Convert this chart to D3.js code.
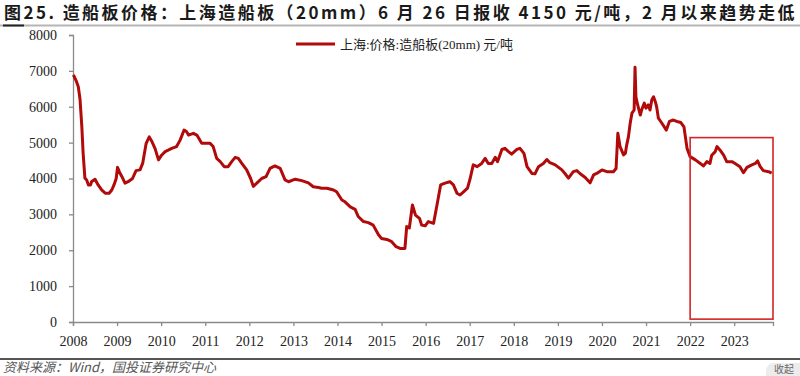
<!DOCTYPE html>
<html>
<head>
<meta charset="utf-8">
<script src="https://cdn.jsdelivr.net/npm/d3@7"></script>
<style>
  body { margin: 0; background: #fff; }
  svg { display: block; }
</style>
</head>
<body>
<svg id="grafico" width="800" height="376"></svg>
<script>
// Datos (fecha en años decimales, precio en yuan/t)
const fechas = [
  2008.01, 2008.08, 2008.12, 2008.16, 2008.20, 2008.23, 2008.27, 2008.31, 2008.35, 2008.40,
  2008.42, 2008.50, 2008.57, 2008.65, 2008.73, 2008.82, 2008.88, 2008.93, 2008.98, 2009.01,
  2009.05, 2009.11, 2009.18, 2009.25, 2009.35, 2009.43, 2009.52, 2009.58, 2009.66, 2009.73,
  2009.79, 2009.86, 2009.94, 2010.01, 2010.09, 2010.16, 2010.24, 2010.35, 2010.43, 2010.52,
  2010.58, 2010.62, 2010.73, 2010.81, 2010.92, 2011.11, 2011.18, 2011.26, 2011.34, 2011.43,
  2011.52, 2011.60, 2011.68, 2011.75, 2011.83, 2011.94, 2012.03, 2012.09, 2012.17, 2012.28,
  2012.38, 2012.47, 2012.58, 2012.70, 2012.81, 2012.89, 2013.04, 2013.19, 2013.34, 2013.45,
  2013.57, 2013.64, 2013.76, 2013.91, 2013.98, 2014.10, 2014.17, 2014.29, 2014.40, 2014.47,
  2014.59, 2014.70, 2014.81, 2014.93, 2015.00, 2015.12, 2015.23, 2015.33, 2015.42, 2015.53,
  2015.57, 2015.63, 2015.70, 2015.77, 2015.86, 2015.91, 2015.99, 2016.06, 2016.18, 2016.25,
  2016.34, 2016.44, 2016.55, 2016.63, 2016.71, 2016.78, 2016.86, 2016.95, 2017.01, 2017.08,
  2017.17, 2017.27, 2017.35, 2017.42, 2017.50, 2017.58, 2017.63, 2017.73, 2017.80, 2017.88,
  2017.95, 2018.07, 2018.14, 2018.23, 2018.30, 2018.41, 2018.48, 2018.56, 2018.67, 2018.75,
  2018.82, 2018.94, 2019.09, 2019.16, 2019.24, 2019.35, 2019.43, 2019.50, 2019.62, 2019.73,
  2019.81, 2019.88, 2020.00, 2020.11, 2020.26, 2020.32, 2020.36, 2020.41, 2020.49, 2020.53,
  2020.56, 2020.60, 2020.64, 2020.68, 2020.73, 2020.75, 2020.77, 2020.81, 2020.87, 2020.90,
  2020.96, 2021.00, 2021.05, 2021.09, 2021.13, 2021.17, 2021.21, 2021.24, 2021.28, 2021.36,
  2021.46, 2021.53, 2021.62, 2021.70, 2021.79, 2021.86, 2021.93, 2022.00, 2022.12, 2022.23,
  2022.30, 2022.38, 2022.45, 2022.49, 2022.57, 2022.61, 2022.68, 2022.76, 2022.83, 2022.95,
  2023.02, 2023.13, 2023.21, 2023.29, 2023.40, 2023.48, 2023.53, 2023.59, 2023.66, 2023.78,
  2023.85
];

const precios = [
  6890, 6700, 6560, 6200, 5450, 4700, 4010, 3960, 3820, 3820,
  3910, 3980, 3820, 3680, 3590, 3590, 3680, 3820, 4000, 4310,
  4190, 4050, 3870, 3910, 4000, 4220, 4240, 4420, 4980, 5160,
  5030, 4840, 4520, 4650, 4750, 4790, 4840, 4890, 5070, 5350,
  5300, 5210, 5260, 5210, 4980, 4980, 4890, 4560, 4470, 4330,
  4330, 4470, 4590, 4560, 4420, 4240, 4000, 3780, 3870, 4000,
  4050, 4280, 4350, 4280, 3960, 3910, 3980, 3940, 3880, 3770,
  3750, 3730, 3730, 3680, 3630, 3400, 3350, 3210, 3140, 2940,
  2800, 2770, 2700, 2430, 2330, 2300, 2240, 2100, 2050, 2050,
  2660, 2620, 3260, 2980, 2890, 2700, 2680, 2800, 2750, 3210,
  3820, 3870, 3910, 3820, 3590, 3540, 3630, 3730, 4000, 4380,
  4330, 4420, 4560, 4420, 4420, 4590, 4470, 4810, 4840, 4750,
  4680, 4810, 4840, 4700, 4330, 4140, 4130, 4330, 4420, 4530,
  4440, 4380, 4240, 4140, 4010, 4190, 4220, 4140, 4030, 3880,
  4100, 4140, 4240, 4190, 4190, 4280, 5260, 4890, 4660, 4700,
  4930, 5160, 5540, 5820, 5910, 7100, 6280, 6050, 5770, 5910,
  6100, 5960, 6050, 5910, 6190, 6280, 6140, 6000, 5680, 5540,
  5350, 5590, 5630, 5590, 5560, 5440, 4840, 4610, 4520, 4420,
  4350, 4470, 4420, 4650, 4750, 4890, 4790, 4650, 4470, 4470,
  4420, 4330, 4160, 4310, 4380, 4420, 4490, 4330, 4220, 4190,
  4150
];

const anios = [2008, 2009, 2010, 2011, 2012, 2013, 2014, 2015, 2016, 2017, 2018, 2019, 2020, 2021, 2022, 2023];
const ticksY = [0, 1000, 2000, 3000, 4000, 5000, 6000, 7000, 8000];

// Recuadro rojo (periodo destacado)
const destacadoX = [2022.0, 2023.88];
const destacadoY = [80, 5140];

const titulo = "图25. 造船板价格：上海造船板（20mm）6 月 26 日报收 4150 元/吨，2 月以来趋势走低";
const nombreSerie = "上海:价格:造船板(20mm) 元/吨";
const fuente = "资料来源：Wind，国投证券研究中心";

const datos = fechas.map((f, i) => ({ fecha: f, precio: precios[i] }));

const svg = d3.select("#grafico");
const margin = { top: 35, right: 27, bottom: 54, left: 73 };
const width = 800, height = 376;

const x = d3.scaleLinear()
    .domain([2008, 2023.88])
    .range([margin.left, width - margin.right]);

const y = d3.scaleLinear()
    .domain([0, 8000])
    .range([height - margin.bottom, margin.top]);

// Titulo: se ajusta el espaciado para que ocupe el ancho del original
const tituloTxt = svg.append("text")
    .attr("x", 4).attr("y", 19)
    .style("font-family", "'Noto Sans CJK SC', 'Liberation Sans', sans-serif")
    .style("font-weight", "bold")
    .style("font-size", "17px")
    .style("fill", "#1a1a1a")
    .text(titulo);
const largoNatural = tituloTxt.node().getComputedTextLength();
const espacio = Math.max(0, (793 - largoNatural) / titulo.length);
tituloTxt.style("letter-spacing", `${espacio}px`);

svg.append("rect")
    .attr("x", 0).attr("y", 24.5).attr("width", width).attr("height", 2)
    .attr("fill", "#b5b5b5");
svg.append("rect")
    .attr("x", 3).attr("y", 24.5).attr("width", 21).attr("height", 2)
    .attr("fill", "#222");

// Ejes
const ejeY = svg.append("g")
    .attr("transform", `translate(${margin.left},0)`)
    .call(d3.axisLeft(y).tickValues(ticksY).tickSize(4).tickPadding(12).tickFormat(d3.format("d")));

const ejeX = svg.append("g")
    .attr("transform", `translate(0,${height - margin.bottom})`)
    .call(d3.axisBottom(x).tickValues(anios).tickSize(4).tickPadding(10).tickFormat(d3.format("d")));

[ejeY, ejeX].forEach(g => {
    g.select(".domain").attr("stroke", "#8a8a8a").attr("stroke-width", 1.3);
    g.selectAll(".tick line").attr("stroke", "#8a8a8a").attr("stroke-width", 1.3);
    g.selectAll(".tick text")
        .style("font-family", "'Liberation Serif', 'DejaVu Serif', serif")
        .style("font-size", "14px")
        .style("fill", "#222");
});

// Linea de precios
const linea = d3.line()
    .x(d => x(d.fecha))
    .y(d => y(d.precio));

svg.append("path")
    .datum(datos)
    .attr("fill", "none")
    .attr("stroke", "#b10a0a")
    .attr("stroke-width", 3)
    .attr("stroke-linejoin", "round")
    .attr("d", linea);

// Recuadro destacado
svg.append("rect")
    .attr("x", x(destacadoX[0]))
    .attr("y", y(destacadoY[1]))
    .attr("width", x(destacadoX[1]) - x(destacadoX[0]))
    .attr("height", y(destacadoY[0]) - y(destacadoY[1]))
    .attr("fill", "none")
    .attr("stroke", "#d42424")
    .attr("stroke-width", 1.6);

// Leyenda
const leyenda = svg.append("g").attr("transform", "translate(296,44)");
leyenda.append("line")
    .attr("x1", 0).attr("x2", 39)
    .attr("y1", 0).attr("y2", 0)
    .attr("stroke", "#b10a0a")
    .attr("stroke-width", 3);
leyenda.append("text")
    .attr("x", 44).attr("y", 5)
    .style("font-family", "'Liberation Serif', 'Noto Sans CJK SC', serif")
    .style("font-size", "13px")
    .style("fill", "#222")
    .text(nombreSerie);

// Pie
svg.append("rect")
    .attr("x", 0).attr("y", 358).attr("width", width).attr("height", 2)
    .attr("fill", "#555");

svg.append("text")
    .attr("x", 3).attr("y", 372)
    .style("font-family", "'Noto Sans CJK SC', sans-serif")
    .style("font-style", "italic")
    .style("font-size", "13px")
    .style("fill", "#555")
    .text(fuente);

// Boton "收起" que asoma en la esquina
svg.append("rect")
    .attr("x", 766).attr("y", 363).attr("width", 50).attr("height", 24).attr("rx", 8)
    .attr("fill", "#ececec");
svg.append("text")
    .attr("x", 774).attr("y", 373)
    .style("font-family", "'Noto Sans CJK SC', sans-serif")
    .style("font-size", "10px")
    .style("fill", "#666")
    .text("收起");
</script>
</body>
</html>
